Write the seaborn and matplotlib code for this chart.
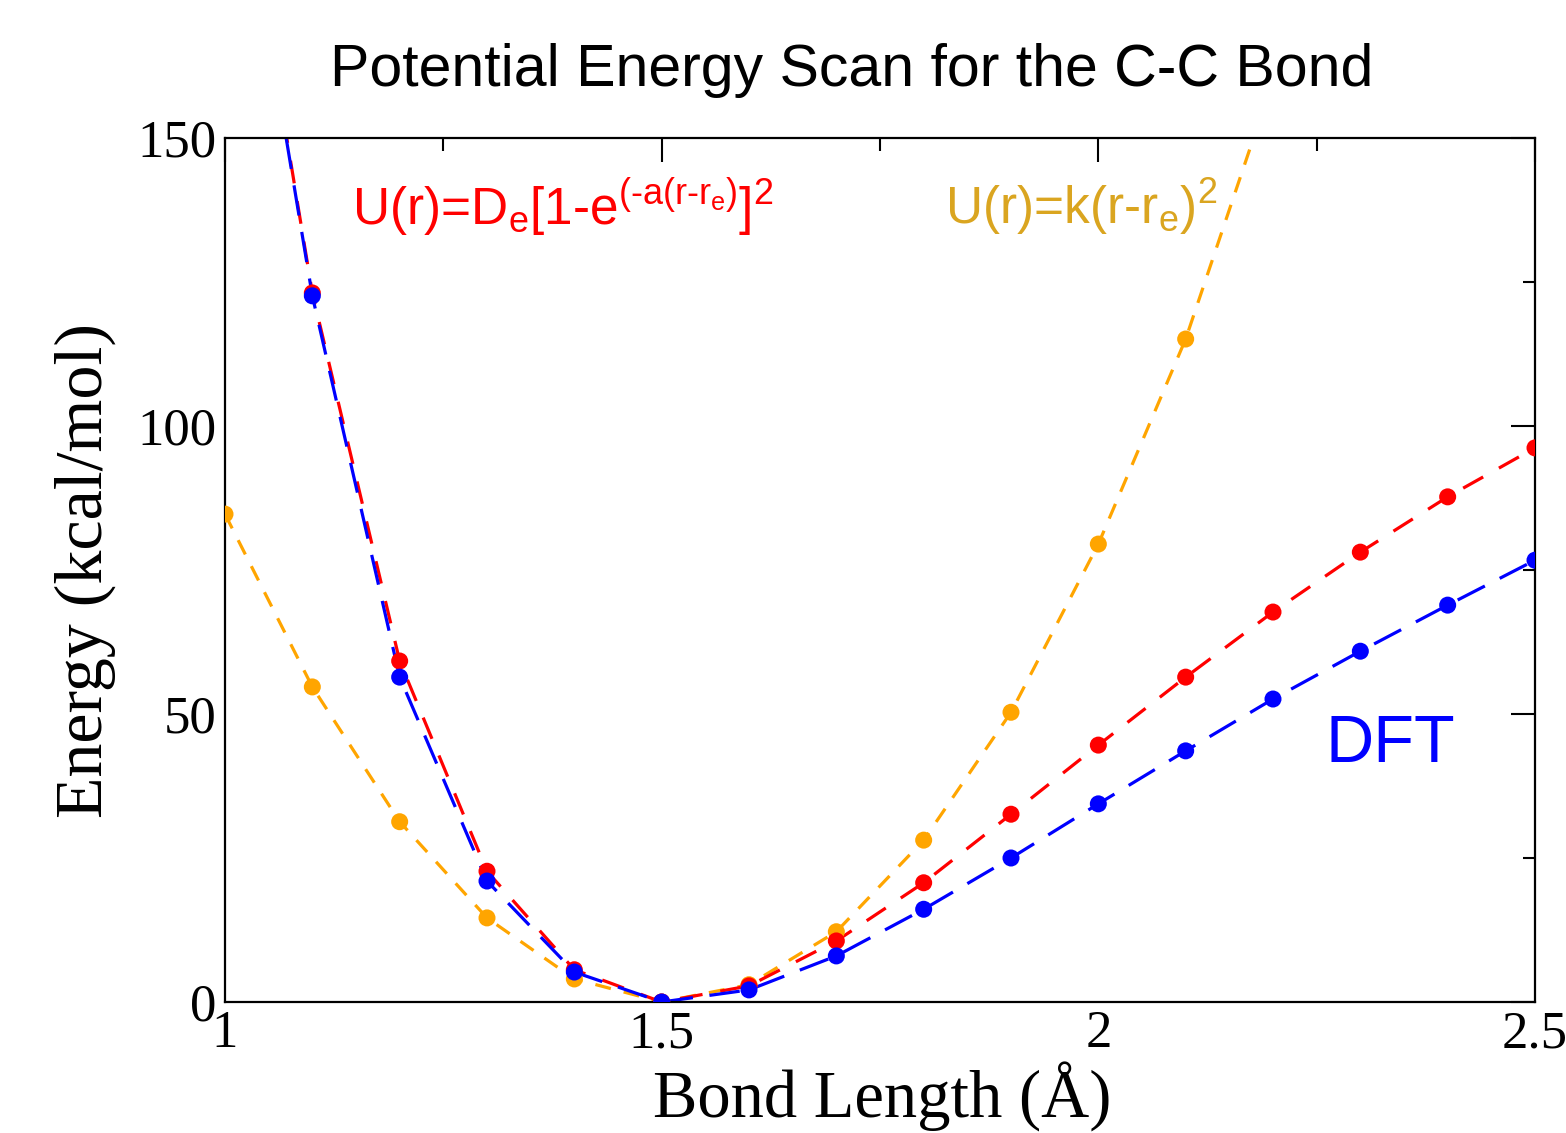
import matplotlib
matplotlib.use("Agg")
import matplotlib.pyplot as plt
import numpy as np
import pandas as pd
import seaborn as sns

# bond lengths (Angstrom) where the scan was sampled
r_morse = [1.1, 1.2, 1.3, 1.4, 1.5, 1.6, 1.7, 1.8, 1.9, 2.0, 2.1, 2.2, 2.3, 2.4, 2.5]
e_morse = [123.1, 59.2, 22.7, 5.6, 0.0, 2.8, 10.6, 20.7, 32.6, 44.6, 56.4, 67.7, 78.1, 87.7, 96.2]

r_dft = [1.1, 1.2, 1.3, 1.4, 1.5, 1.6, 1.7, 1.8, 1.9, 2.0, 2.1, 2.2, 2.3, 2.4, 2.5]
e_dft = [122.6, 56.4, 21.0, 5.2, 0.0, 2.1, 8.0, 16.1, 25.0, 34.4, 43.6, 52.6, 60.9, 68.9, 76.7]

r_harm = [1.0, 1.1, 1.2, 1.3, 1.4, 1.5, 1.6, 1.7, 1.8, 1.9, 2.0, 2.1]
e_harm = [84.7, 54.7, 31.3, 14.6, 4.0, 0.0, 3.0, 12.2, 28.1, 50.3, 79.5, 115.1]

# where the curves leave the frame (estimated)
r_morse_edge, e_morse_edge = [1.0], [215.0]
r_dft_edge, e_dft_edge = [1.0], [214.0]
r_harm_edge, e_harm_edge = [2.2], [160.0]

RED, BLUE, ORANGE, GOLD = "#ff0000", "#0000ff", "#ffa500", "#daa520"

sns.set_style("white")
plt.rcParams["lines.scale_dashes"] = False
plt.rcParams["font.family"] = ["Liberation Serif", "DejaVu Serif"]
plt.rcParams["mathtext.fontset"] = "custom"
plt.rcParams["mathtext.rm"] = "Liberation Sans"
plt.rcParams["mathtext.it"] = "Liberation Sans"
for key in ["text.color", "axes.labelcolor", "xtick.color", "ytick.color"]:
    plt.rcParams[key] = "black"

fig = plt.figure(figsize=(15.66, 11.33), dpi=100)
ax = fig.add_axes([225 / 1566, 1 - 1002 / 1133, (1535 - 225) / 1566, (1002 - 138) / 1133])

series = [
    (r_harm + r_harm_edge, e_harm + e_harm_edge, r_harm, e_harm, ORANGE, (0, (11.5, 9.5))),
    (r_morse_edge + r_morse, e_morse_edge + e_morse, r_morse, e_morse, RED, (0, (16.5, 13))),
    (r_dft_edge + r_dft, e_dft_edge + e_dft, r_dft, e_dft, BLUE, (0, (22, 12))),
]
for lx, ly, mx, my, col, ls in series:
    sns.lineplot(x=lx, y=ly, ax=ax, color=col, linewidth=2.3, linestyle=ls, sort=False)
    sns.scatterplot(x=mx, y=my, ax=ax, color=col, s=150, edgecolor="none", zorder=3)

ax.set_xlim(1, 2.5)
ax.set_ylim(0, 150)
ax.set_xticks([1, 1.5, 2, 2.5])
ax.set_xticklabels(["1", "1.5", "2", "2.5"])
ax.set_xticks([1.25, 1.75, 2.25], minor=True)
ax.set_yticks([0, 50, 100, 150])
ax.set_yticks([25, 75, 125], minor=True)
ax.tick_params(which="both", direction="in", top=True, right=True, width=1.5,
               color="black", labelsize=38, pad=6)
ax.tick_params(which="major", length=17)
ax.tick_params(which="minor", length=9)
for sp in ax.spines.values():
    sp.set_linewidth(1.6)
    sp.set_color("black")

fig.text(882 / 1566, 1 - 1118 / 1133, "Bond Length (Å)", fontsize=48,
         ha="center", va="baseline")
fig.text(85 / 1566, 1 - 570 / 1133, "Energy (kcal/mol)", fontsize=49,
         rotation=90, ha="center", va="center")

fig.text(852 / 1566, 1 - 70 / 1133, "Potential Energy Scan for the C-C Bond",
         fontsize=42.5, family="Liberation Sans", ha="center", va="center")

ax.text(1.145, 138, r"U(r)=D$_{\mathrm{e}}$[1-e$^{\text{(-a(r-r}_{\mathrm{e}}\text{)}}$]$^{2}$",
        fontsize=37, color=RED, family="Liberation Sans", ha="left", va="center")
ax.text(1.8245, 138, r"U(r)=k(r-r$_{\mathrm{e}}$)$^{2}$",
        fontsize=37, color=GOLD, family="Liberation Sans", ha="left", va="center")
ax.text(2.26, 44.6, "DFT", fontsize=48, color=BLUE, family="Liberation Sans",
        ha="left", va="center")

fig.savefig("out.png", dpi=100)
